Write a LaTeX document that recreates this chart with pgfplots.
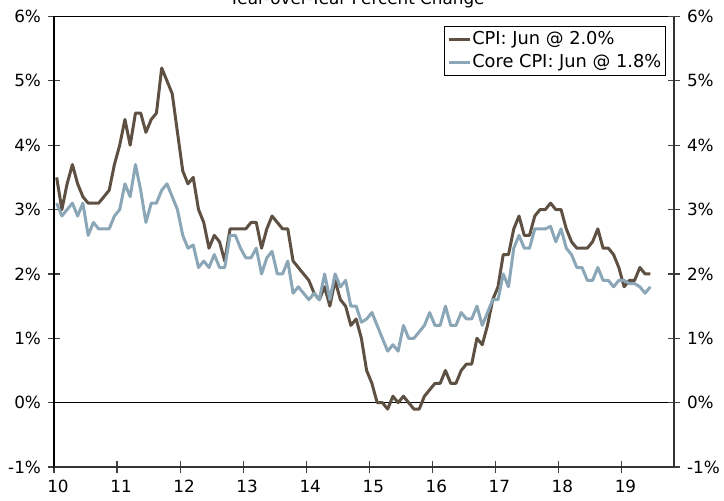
\documentclass[border=0pt]{standalone}
\usepackage{fontspec}
\setmainfont{DejaVu Sans}
\usepackage{pgfplots}
\usepackage{pgfplotstable}
\pgfplotsset{compat=1.18}
\definecolor{cpibrown}{RGB}{94,81,67}
\definecolor{coreblue}{RGB}{138,166,183}

% t = year (mid-month), cpi, core (y/y %)
\pgfplotstableread{
t cpi core
10.042 3.5 3.1
10.125 3.0 2.9
10.208 3.4 3.0
10.292 3.7 3.1
10.375 3.4 2.9
10.458 3.2 3.1
10.542 3.1 2.6
10.625 3.1 2.8
10.708 3.1 2.7
10.792 3.2 2.7
10.875 3.3 2.7
10.958 3.7 2.9
11.042 4.0 3.0
11.125 4.4 3.4
11.208 4.0 3.2
11.292 4.5 3.7
11.375 4.5 3.3
11.458 4.2 2.8
11.542 4.4 3.1
11.625 4.5 3.1
11.708 5.2 3.3
11.792 5.0 3.4
11.875 4.8 3.2
11.958 4.2 3.0
12.042 3.6 2.6
12.125 3.4 2.4
12.208 3.5 2.45
12.292 3.0 2.1
12.375 2.8 2.2
12.458 2.4 2.1
12.542 2.6 2.3
12.625 2.5 2.1
12.708 2.2 2.1
12.792 2.7 2.6
12.875 2.7 2.6
12.958 2.7 2.4
13.042 2.7 2.25
13.125 2.8 2.25
13.208 2.8 2.4
13.292 2.4 2.0
13.375 2.7 2.25
13.458 2.9 2.35
13.542 2.8 2.0
13.625 2.7 2.0
13.708 2.7 2.2
13.792 2.2 1.7
13.875 2.1 1.8
13.958 2.0 1.7
14.042 1.9 1.6
14.125 1.7 1.7
14.208 1.6 1.6
14.292 1.8 2.0
14.375 1.5 1.6
14.458 1.9 2.0
14.542 1.6 1.8
14.625 1.5 1.9
14.708 1.2 1.5
14.792 1.3 1.5
14.875 1.0 1.25
14.958 0.5 1.3
15.042 0.3 1.4
15.125 0.0 1.2
15.208 0.0 1.0
15.292 -0.1 0.8
15.375 0.1 0.9
15.458 0.0 0.8
15.542 0.1 1.2
15.625 0.0 1.0
15.708 -0.1 1.0
15.792 -0.1 1.1
15.875 0.1 1.2
15.958 0.2 1.4
16.042 0.3 1.2
16.125 0.3 1.2
16.208 0.5 1.5
16.292 0.3 1.2
16.375 0.3 1.2
16.458 0.5 1.4
16.542 0.6 1.3
16.625 0.6 1.3
16.708 1.0 1.5
16.792 0.9 1.2
16.875 1.2 1.4
16.958 1.6 1.6
17.042 1.8 1.6
17.125 2.3 2.0
17.208 2.3 1.8
17.292 2.7 2.4
17.375 2.9 2.6
17.458 2.6 2.4
17.542 2.6 2.4
17.625 2.9 2.7
17.708 3.0 2.7
17.792 3.0 2.7
17.875 3.1 2.74
17.958 3.0 2.5
18.042 3.0 2.7
18.125 2.7 2.4
18.208 2.5 2.3
18.292 2.4 2.1
18.375 2.4 2.1
18.458 2.4 1.9
18.542 2.5 1.9
18.625 2.7 2.1
18.708 2.4 1.9
18.792 2.4 1.9
18.875 2.3 1.8
18.958 2.1 1.9
19.042 1.8 1.9
19.125 1.9 1.85
19.208 1.9 1.85
19.292 2.1 1.8
19.375 2.0 1.7
19.458 2.0 1.8
}\cpidata

\pgfplotsset{
  cpibase/.style={
    scale only axis,
    width=310pt, height=225.25pt,
    at={(27pt,16.5pt)}, anchor=south west,
    xmin=10, xmax=19.833,
    ymin=-1, ymax=6,
    ytick={-1,0,1,2,3,4,5,6},
    yticklabels={-1\%,0\%,1\%,2\%,3\%,4\%,5\%,6\%},
    tick align=center,
    major tick length=6pt,
    tick style={black!75, line width=0.6pt},
    font=\fontsize{8.4}{10}\selectfont,
  },
}

\begin{document}
\begin{tikzpicture}
\begin{axis}[
    cpibase,
    xtick={10,11,12,13,14,15,16,17,18,19},
    xticklabels={10,11,12,13,14,15,16,17,18,19},
    xtick pos=lower,
    ytick pos=left,
    xticklabel style={xshift=2pt},
    axis line style={black, line width=0.8pt},
    legend style={at={(0.987,0.98)}, anchor=north east,
        draw=black, line width=0.6pt,
        inner xsep=1.5pt, inner ysep=1pt, row sep=0pt,
        nodes={inner xsep=0.5pt, inner ysep=1.6pt},
        font=\fontsize{8.9}{10.5}\selectfont},
    legend cell align=left,
    legend image code/.code={\draw[#1] (0pt,0pt) -- (10.5pt,0pt);},
]
\addplot[black, line width=0.6pt, forget plot] coordinates {(10,0) (19.833,0)};
\addplot[cpibrown, line width=1.5pt, line join=round] table[x=t, y=cpi] {\cpidata};
\addlegendentry{CPI: Jun @ 2.0\%}
\addplot[coreblue, line width=1.5pt, line join=round] table[x=t, y=core] {\cpidata};
\addlegendentry{Core CPI: Jun @ 1.8\%}
\end{axis}
\begin{axis}[
    cpibase,
    axis x line*=bottom,
    xtick=\empty,
    axis y line*=right,
    axis line style={black!80, line width=1.1pt},
]
\end{axis}
\node[anchor=base, font=\fontsize{8.4}{10}\selectfont] at (178.5pt,247.8pt) {Year-over-Year Percent Change};
\pgfresetboundingbox
\path[use as bounding box] (0pt,0pt) rectangle (362pt,250pt);
\end{tikzpicture}
\end{document}
